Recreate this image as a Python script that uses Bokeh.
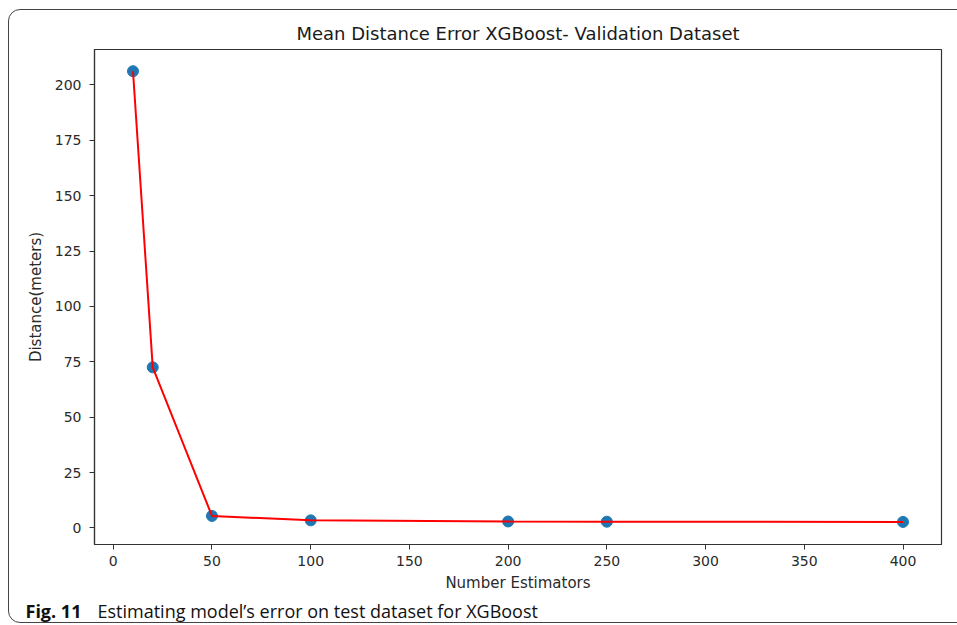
from bokeh.plotting import figure
from bokeh.layouts import column
from bokeh.models import Range1d, FixedTicker, Label, InlineStyleSheet
from bokeh.embed import file_html
from bokeh.resources import INLINE

# ---- data ----
n_estimators = [10, 20, 50, 100, 200, 250, 400]
distance_error = [206.2, 72.5, 5.4, 3.4, 2.9, 2.8, 2.7]
x_ticks = [0, 50, 100, 150, 200, 250, 300, 350, 400]
y_ticks = [0, 25, 50, 75, 100, 125, 150, 175, 200]
title_text = "Mean Distance Error XGBoost- Validation Dataset"
x_label = "Number Estimators"
y_label = "Distance(meters)"
caption_bold = "Fig. 11"
caption_text = "Estimating model\u2019s error on test dataset for XGBoost"

# ---- layout (pixels) ----
W = 957
MAIN_H = 598
CAP_H = 27
FL, FR, FT, FB = 94, 941, 49, 544
x0, x1 = -9.5, 419.5
y0, y1 = -7.5, 216.0

p = figure(width=W, height=MAIN_H, x_range=Range1d(x0, x1), y_range=Range1d(y0, y1),
           output_backend="svg", toolbar_location=None,
           min_border_left=FL, min_border_right=W - FR,
           min_border_top=FT, min_border_bottom=MAIN_H - FB)

p.background_fill_color = "white"
p.border_fill_color = "white"
p.outline_line_color = "#333333"
p.outline_line_width = 1.2
p.outline_line_alpha = 1.0
p.xgrid.visible = False
p.ygrid.visible = False

p.title.text = title_text
p.title.align = "center"
p.title.text_font = "DejaVu Sans"
p.title.text_font_size = "18px"
p.title.text_font_style = "normal"
p.title.text_color = "#1a1a1a"
p.title.standoff = 12

for ax, ticks, lab in ((p.xaxis[0], x_ticks, x_label), (p.yaxis[0], y_ticks, y_label)):
    ax.ticker = FixedTicker(ticks=ticks)
    ax.axis_label = lab
    ax.axis_label_text_font = "DejaVu Sans"
    ax.axis_label_text_font_size = "15px"
    ax.axis_label_text_font_style = "normal"
    ax.axis_label_text_color = "#2a2a2a"
    ax.major_label_text_font = "DejaVu Sans"
    ax.major_label_text_font_size = "14px"
    ax.major_label_text_color = "#2a2a2a"
    ax.axis_line_color = "#333333"
    ax.axis_line_width = 1.2
    ax.major_tick_line_color = "#333333"
    ax.major_tick_out = 5
    ax.major_tick_in = 0
    ax.minor_tick_line_color = None

p.yaxis[0].major_label_standoff = 8
p.yaxis[0].axis_label_standoff = 7
p.xaxis[0].major_label_standoff = 6
p.xaxis[0].axis_label_standoff = 5

p.scatter(n_estimators, distance_error, size=11, color="#1f77b4")
p.line(n_estimators, distance_error, line_color="red", line_width=2)

# rounded outer frame of the figure panel (drawn with CSS, not data)
p.stylesheets = [InlineStyleSheet(css="""
:host { position: relative; }
:host::before {
  content: "";
  position: absolute;
  left: 8px; top: 9px;
  width: 1200px; height: 614px;
  box-sizing: border-box;
  border: 1.3px solid #444444;
  border-radius: 12px;
  pointer-events: none;
  z-index: 10;
}
""")]

# ---- caption strip ----
cap = figure(width=W, height=CAP_H, x_range=Range1d(0, W), y_range=Range1d(CAP_H, 0),
             output_backend="svg", toolbar_location=None,
             x_axis_location=None, y_axis_location=None,
             min_border=0, min_border_left=0, min_border_right=0,
             min_border_top=0, min_border_bottom=0)
cap.grid.visible = False
cap.outline_line_color = None
cap.background_fill_color = "white"
cap.border_fill_color = "white"

for fig in (p, cap):
    if "frame_align" in fig.properties():
        fig.frame_align = False

cap.add_layout(Label(x=25, y=12, text=caption_bold, text_baseline="alphabetic",
                     text_font="Open Sans", text_font_size="18px", text_font_style="bold",
                     text_color="#111111"))
cap.add_layout(Label(x=97, y=12, text=caption_text, text_baseline="alphabetic",
                     text_font="Open Sans", text_font_size="18px", text_color="#111111"))

layout = column(p, cap, spacing=0)

open("out.html", "w").write(file_html(layout, INLINE))
